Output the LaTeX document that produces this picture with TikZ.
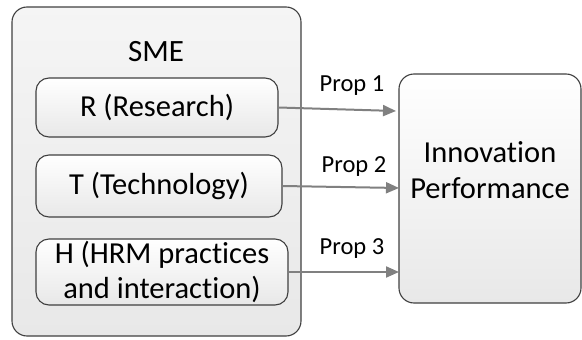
\documentclass[tikz,border=0pt]{standalone}
\usepackage{fontspec}
\setmainfont{Carlito}[Ligatures={NoCommon}]
\usetikzlibrary{arrows.meta, positioning}
\definecolor{edgegray}{RGB}{64, 64, 64}
\definecolor{arrowgray}{RGB}{128, 128, 128}
\tikzset{
  boxbase/.style={draw=edgegray, line width=1.1pt, rectangle, inner sep=0pt},
  outerbox/.style={boxbase, rounded corners=15pt, top color=black!4, bottom color=black!9},
  innerbox/.style={boxbase, rounded corners=13pt, top color=white, bottom color=black!9,
    align=center, font=\fontsize{30.5}{35}\selectfont},
  propline/.style={arrowgray, line width=2pt, -{Triangle[length=13pt, width=11pt]}},
  proplabel/.style={font=\fontsize{24.5}{28}\selectfont}
}
\begin{document}
\begin{tikzpicture}[x=1pt, y=-1pt]
  \useasboundingbox (0,0) rectangle (582,340);

  % SME
  \node[outerbox, minimum width=289pt, minimum height=329pt] (sme) at (156.5,171.5) {};
  \node[font=\fontsize{31}{35}\selectfont] (smetxt) at (156,52) {SME};
  \node[innerbox, minimum width=242pt, minimum height=59pt] (res) at (157,107.5) {R (Research)};
  \node[innerbox, minimum width=246pt, minimum height=62pt] (tec) at (159,186) {T (Technology)};
  \node[innerbox, minimum width=252pt, minimum height=66pt] (hrm) at (162,272) {H (HRM practices\\and interaction)};

  % Innovation Performance
  \node[outerbox, top color=white, minimum width=182pt, minimum height=229pt] (inn) at (490,188.5) {};
  \node[align=center, font=\fontsize{30.5}{36}\selectfont] (inntxt) at (490,170) {Innovation\\Performance};

  % propositions
  \coordinate (p1) at (396,111);
  \coordinate (p2) at (399,188);
  \coordinate (p3) at (399,272);
  \draw[propline] (res.east) -- (p1);
  \draw[propline] (tec.east) -- (p2);
  \draw[propline] (hrm.east) -- (p3);
  \node[proplabel] (prop1) at (352,86) {Prop 1};
  \node[proplabel] (prop2) at (354,167) {Prop 2};
  \node[proplabel] (prop3) at (352,249) {Prop 3};
\end{tikzpicture}
\end{document}
